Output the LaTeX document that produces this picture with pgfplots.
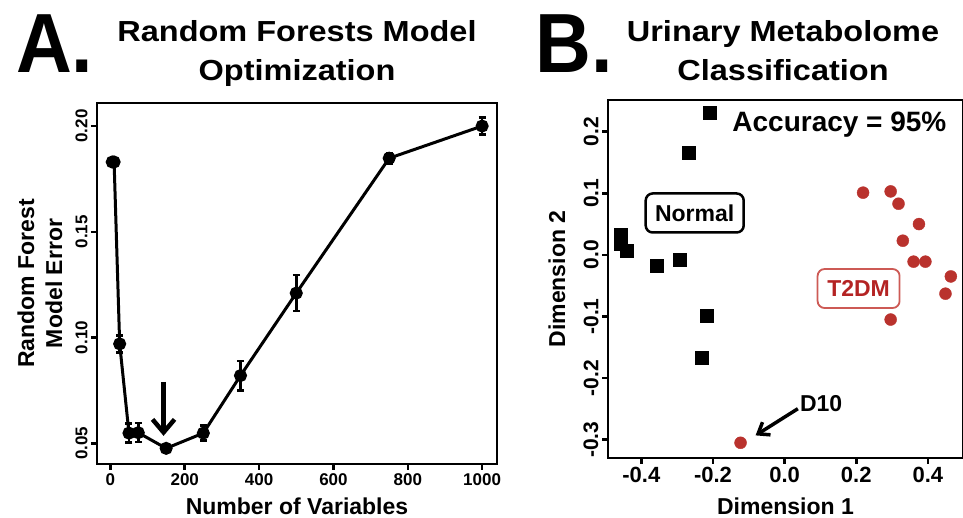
\documentclass[border=0pt]{standalone}
\usepackage{pgfplots}
\pgfplotsset{compat=1.18}
\usepackage{fontspec}
\setmainfont{Liberation Sans}
\newfontfamily\titlefont{Liberation Sans}[FakeStretch=1.12]
\newfontfamily\bigfont{Liberation Sans}[FakeStretch=0.92]
\usetikzlibrary{arrows.meta}

\definecolor{t2red}{RGB}{185,50,45}
\definecolor{t2text}{RGB}{180,35,35}
\definecolor{t2box}{RGB}{205,90,85}

\pgfplotsset{
  panel/.style={
    scale only axis,
    axis line style={line width=2.8pt},
    tick style={line width=2.5pt, black},
    tick align=outside,
    major tick length=6pt,
    xtick pos=bottom, ytick pos=left,
    clip=false,
    /pgf/number format/assume math mode=true,
  },
}

\begin{document}
\begin{tikzpicture}[x=1pt,y=1pt]
\path[use as bounding box] (0,0) rectangle (963,518);

% panel letters and titles
\node[anchor=base west, inner sep=0pt] at (16,445) {\bigfont\bfseries\fontsize{84}{84}\selectfont A.};
\node[anchor=base west, inner sep=0pt] at (535,445) {\bigfont\bfseries\fontsize{84}{84}\selectfont B.};
\node[anchor=base, inner sep=0pt] at (297,476) {\titlefont\bfseries\fontsize{29}{29}\selectfont Random Forests Model};
\node[anchor=base, inner sep=0pt] at (297,437) {\titlefont\bfseries\fontsize{29}{29}\selectfont Optimization};
\node[anchor=base, inner sep=0pt] at (783,476) {\titlefont\bfseries\fontsize{29}{29}\selectfont Urinary Metabolome};
\node[anchor=base, inner sep=0pt] at (783,437) {\titlefont\bfseries\fontsize{29}{29}\selectfont Classification};

% A: random forests error vs number of variables
\begin{axis}[panel,
  at={(97pt,54pt)}, anchor=south west,
  width=400pt, height=361pt,
  xmin=-36, xmax=1040, ymin=0.0402, ymax=0.2109,
  xtick={0,200,400,600,800,1000},
  ytick={0.05,0.10,0.15,0.20},
  yticklabel style={rotate=90, anchor=south, font=\bfseries\fontsize{17}{17}\selectfont,
    /pgf/number format/.cd, fixed, fixed zerofill, precision=2},
  xticklabel style={font=\bfseries\fontsize{17}{17}\selectfont,
    /pgf/number format/.cd, 1000 sep={}},
  xlabel={Number of Variables},
  xlabel style={at={(axis description cs:0.5,0)}, anchor=base, yshift=-51pt, inner sep=0pt,
    font=\bfseries\fontsize{23}{23}\selectfont},
  ylabel={Random Forest\\Model Error},
  ylabel style={at={(axis description cs:-0.1425,0.5)}, anchor=center,
    align=center, font=\bfseries\fontsize{23}{28}\selectfont},
]
\addplot[black, line width=3pt, mark=*, mark size=5pt,
  error bars/.cd, y dir=both, y explicit,
  error bar style={line width=2.5pt},
  error mark options={rotate=90, mark size=3.5pt, line width=2.5pt}]
  table[x=n, y=err, y error=sd] {
  n     err     sd
  5     0.1830  0.0000
  10    0.1830  0.0000
  25    0.0970  0.0040
  50    0.0548  0.0045
  75    0.0550  0.0045
  150   0.0476  0.0008
  250   0.0548  0.0035
  350   0.0820  0.0070
  500   0.1210  0.0085
  750   0.1848  0.0025
  1000  0.2000  0.0040
};
\draw[line width=4.5pt, -{Straight Barb[length=13pt, width=22pt]}]
  (axis cs:143,0.0790) -- (axis cs:143,0.0535);
\end{axis}

% B: MDS plot of urinary metabolome
\begin{axis}[panel,
  at={(608pt,60pt)}, anchor=south west,
  width=355pt, height=358pt,
  xmin=-0.493, xmax=0.498, ymin=-0.3297, ymax=0.2514,
  xtick={-0.4,-0.2,0,0.2,0.4},
  ytick={-0.3,-0.2,-0.1,0,0.1,0.2},
  xticklabel style={font=\bfseries\fontsize{22}{22}\selectfont,
    /pgf/number format/.cd, fixed, fixed zerofill, precision=1},
  yticklabel style={rotate=90, anchor=south, font=\bfseries\fontsize{21}{21}\selectfont,
    /pgf/number format/.cd, fixed, fixed zerofill, precision=1},
  xlabel={Dimension 1},
  xlabel style={at={(axis description cs:0.5,0)}, anchor=base, yshift=-57pt, inner sep=0pt,
    font=\bfseries\fontsize{23}{23}\selectfont},
  ylabel={Dimension 2},
  ylabel style={at={(axis description cs:-0.1437,0.5)}, anchor=center,
    font=\bfseries\fontsize{23}{23}\selectfont},
]
% Normal
\addplot[only marks, mark=square*, mark size=6.5pt, black] table {
  -0.210   0.230
  -0.268   0.166
  -0.458   0.032
  -0.458   0.018
  -0.440   0.007
  -0.356  -0.018
  -0.293  -0.008
  -0.218  -0.098
  -0.231  -0.1665
};
% T2DM
\addplot[only marks, mark=*, mark size=6pt, t2red, mark options={draw=t2red, fill=t2red}] table {
   0.219   0.101
   0.296   0.103
   0.318   0.083
   0.375   0.050
   0.330   0.023
   0.360  -0.011
   0.393  -0.011
   0.464  -0.035
   0.449  -0.063
   0.296  -0.105
  -0.123  -0.305
};
\node[font=\bfseries\fontsize{28}{28}\selectfont] at (axis cs:0.153,0.211) {Accuracy = 95\%};
\node[draw=black, line width=2.5pt, rounded corners=7pt, minimum width=98pt, minimum height=39pt,
  font=\bfseries\fontsize{23}{23}\selectfont] at (axis cs:-0.251,0.068) {Normal};
\node[draw=t2box, line width=1.8pt, rounded corners=7pt, minimum width=82pt, minimum height=39pt,
  text=t2text, font=\bfseries\fontsize{23}{23}\selectfont] at (axis cs:0.2065,-0.0546) {T2DM};
\node[font=\bfseries\fontsize{23}{23}\selectfont] at (axis cs:0.102,-0.2416) {D10};
\draw[line width=3.5pt, -{Straight Barb[length=10pt, width=15pt]}]
  (axis cs:0.037,-0.2497) -- (axis cs:-0.081,-0.293);
\end{axis}
\end{tikzpicture}
\end{document}
